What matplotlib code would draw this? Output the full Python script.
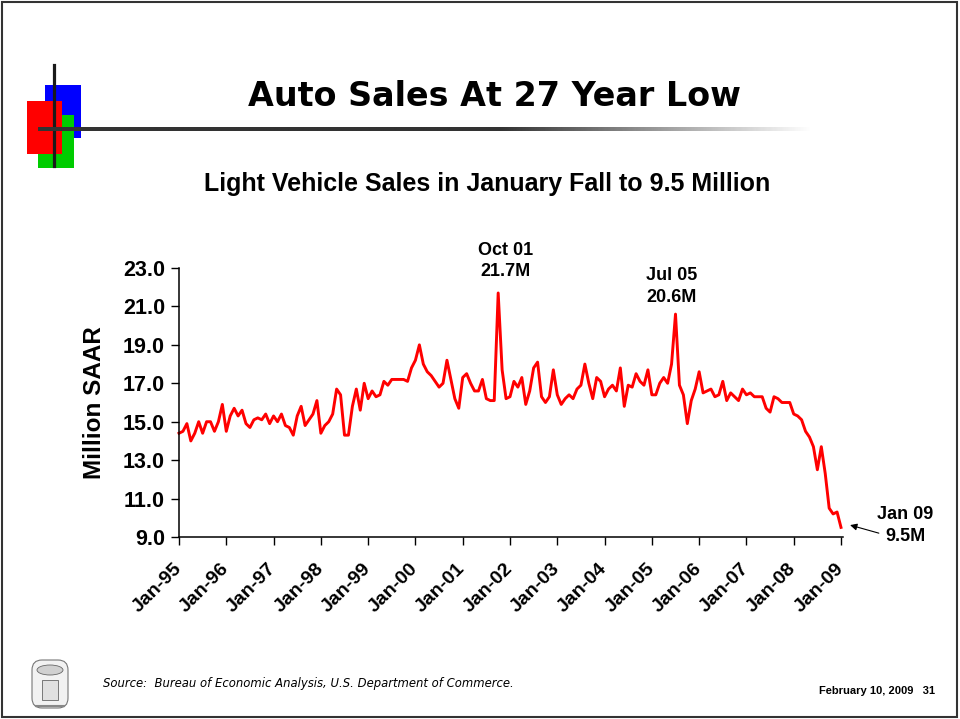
import numpy as np
import matplotlib.pyplot as plt
from matplotlib.patches import Rectangle, Ellipse, FancyBboxPatch

# ── Data: light vehicle sales, SAAR (millions), monthly Jan-95 .. Jan-09 ─────
sales = [
    # 1995
    14.4, 14.5, 14.9, 14.0, 14.4, 15.0, 14.4, 15.0, 15.0, 14.5, 15.0, 15.9,
    # 1996
    14.5, 15.3, 15.7, 15.3, 15.6, 14.9, 14.7, 15.1, 15.2, 15.1, 15.4, 14.9,
    # 1997
    15.3, 15.0, 15.4, 14.8, 14.7, 14.3, 15.3, 15.8, 14.8, 15.1, 15.4, 16.1,
    # 1998
    14.4, 14.8, 15.0, 15.4, 16.7, 16.4, 14.3, 14.3, 15.8, 16.7, 15.6, 17.0,
    # 1999
    16.2, 16.6, 16.3, 16.4, 17.1, 16.9, 17.2, 17.2, 17.2, 17.2, 17.1, 17.8,
    # 2000
    18.2, 19.0, 18.0, 17.6, 17.4, 17.1, 16.8, 17.0, 18.2, 17.2, 16.2, 15.7,
    # 2001
    17.3, 17.5, 17.0, 16.6, 16.6, 17.2, 16.2, 16.1, 16.1, 21.7, 17.7, 16.2,
    # 2002
    16.3, 17.1, 16.8, 17.3, 15.9, 16.6, 17.8, 18.1, 16.3, 16.0, 16.3, 17.7,
    # 2003
    16.4, 15.9, 16.2, 16.4, 16.2, 16.7, 16.9, 18.0, 17.0, 16.2, 17.3, 17.1,
    # 2004
    16.3, 16.7, 16.9, 16.6, 17.8, 15.8, 16.9, 16.8, 17.5, 17.1, 16.9, 17.7,
    # 2005
    16.4, 16.4, 17.0, 17.3, 17.0, 18.0, 20.6, 16.9, 16.4, 14.9, 16.1, 16.7,
    # 2006
    17.6, 16.5, 16.6, 16.7, 16.3, 16.4, 17.1, 16.1, 16.5, 16.3, 16.1, 16.7,
    # 2007
    16.4, 16.5, 16.3, 16.3, 16.3, 15.7, 15.5, 16.3, 16.2, 16.0, 16.0, 16.0,
    # 2008
    15.4, 15.3, 15.1, 14.5, 14.2, 13.7, 12.5, 13.7, 12.3, 10.5, 10.2, 10.3,
    # 2009
    9.5,
]
year_labels = ['Jan-95', 'Jan-96', 'Jan-97', 'Jan-98', 'Jan-99', 'Jan-00',
               'Jan-01', 'Jan-02', 'Jan-03', 'Jan-04', 'Jan-05', 'Jan-06',
               'Jan-07', 'Jan-08', 'Jan-09']
y_ticks = [9.0, 11.0, 13.0, 15.0, 17.0, 19.0, 21.0, 23.0]
callout_months = [81, 126]
callout_labels = ['Oct 01\n21.7M', 'Jul 05\n20.6M']

months = np.arange(len(sales))
W, H = 960, 719
ARIAL = 'Liberation Sans'

fig = plt.figure(figsize=(9.6, 7.19), dpi=100)

# ── Slide decoration, drawn in pixel coordinates ──────────────────────────────
bg = fig.add_axes([0, 0, 1, 1])

bg.add_patch(Rectangle((2, 2), 955, 715, fill=False, ec='#333333', lw=1.5))

# logo squares
bg.add_patch(Rectangle((45, 85), 36, 53, fc='#0000FF', ec='none', zorder=2))
bg.add_patch(Rectangle((38, 115), 36, 53, fc='#00CC00', ec='none', zorder=3))
bg.add_patch(Rectangle((27, 101), 35, 53, fc='#FF0000', ec='none', zorder=4))
bg.plot([54, 54], [65, 166], color='#1a1a1a', lw=2.3, zorder=5)

# title rule fading to the right
ramp = np.linspace(0, 1, 400)
rgba = np.zeros((1, 400, 4))
rgba[..., :3] = 0.2
rgba[0, :, 3] = np.clip((1 - ramp) / 0.4, 0, 1)
bg.imshow(rgba, extent=(38, 812, 131, 127), aspect='auto', zorder=5,
          interpolation='bilinear')
bg.set_xlim(0, W)
bg.set_ylim(H, 0)
bg.axis('off')

bg.text(494, 96, 'Auto Sales At 27 Year Low', ha='center', va='center',
        fontsize=24, weight='bold', family='DejaVu Sans')
bg.text(487, 184, 'Light Vehicle Sales in January Fall to 9.5 Million',
        ha='center', va='center', fontsize=18, weight='bold', family=ARIAL)

# seal (rough sketch)
bg.add_patch(FancyBboxPatch((34, 662), 32, 44, boxstyle='round,pad=2,rounding_size=10',
                            fc='#f2f2f2', ec='#777777', lw=0.8))
bg.add_patch(Ellipse((50, 670), 26, 10, fc='#d0d0d0', ec='#666666', lw=0.6))
bg.add_patch(Rectangle((42, 680), 16, 20, fc='#e0e0e0', ec='#666666', lw=0.6))
bg.plot([36, 64], [706, 706], color='#888888', lw=1.5)

bg.text(103, 684, 'Source:  Bureau of Economic Analysis, U.S. Department of Commerce.',
        ha='left', va='center', fontsize=8.4, style='italic', family='DejaVu Sans')
bg.text(935, 691, 'February 10, 2009   31', ha='right', va='center',
        fontsize=8, weight='bold', family=ARIAL)

# ── Chart ─────────────────────────────────────────────────────────────────────
px_per_month = (841 - 179) / 168
x_max = 168.6
ax = fig.add_axes([179 / W, 1 - 537 / H, x_max * px_per_month / W, (537 - 268) / H])
ax.patch.set_alpha(0)

ax.plot(months, sales, color='#FF0000', lw=2.1, clip_on=False)

ax.set_xlim(0, x_max)
ax.set_ylim(9, 23)
ax.set_xticks(months[::12])
ax.set_xticklabels(year_labels, rotation=45, ha='right', va='center',
                   rotation_mode='anchor', fontsize=14, weight='bold', family=ARIAL)
ax.set_yticks(y_ticks)
ax.set_yticklabels([f'{v:.1f}' for v in y_ticks], fontsize=15.5, weight='bold',
                   family=ARIAL)
ax.tick_params(axis='x', length=6, width=1, pad=15, direction='out')
ax.tick_params(axis='y', length=6, width=1, pad=4, direction='out')
for side in ['top', 'right']:
    ax.spines[side].set_visible(False)
for side in ['left', 'bottom']:
    ax.spines[side].set_linewidth(1.1)

ax.set_ylabel('Million SAAR', fontsize=17.5, weight='bold', family=ARIAL, labelpad=12)

for m, label, dx, dy in zip(callout_months, callout_labels, [5, -2.5], [9, 6]):
    ax.annotate(label, xy=(m, sales[m]), xytext=(dx, dy), textcoords='offset points',
                ha='center', va='bottom', fontsize=13, weight='bold', family=ARIAL,
                linespacing=1.35)

ax.text(184.3, 9.6, 'Jan 09\n9.5M', ha='center', va='center', fontsize=13,
        weight='bold', family=ARIAL, linespacing=1.35, clip_on=False)
ax.annotate('', xy=(170.3, 9.62), xytext=(177.6, 9.2), annotation_clip=False,
            arrowprops=dict(arrowstyle='-|>', color='black', lw=0.8,
                            mutation_scale=10, shrinkA=0, shrinkB=0))

fig.savefig('out.png', dpi=100, facecolor='white')
